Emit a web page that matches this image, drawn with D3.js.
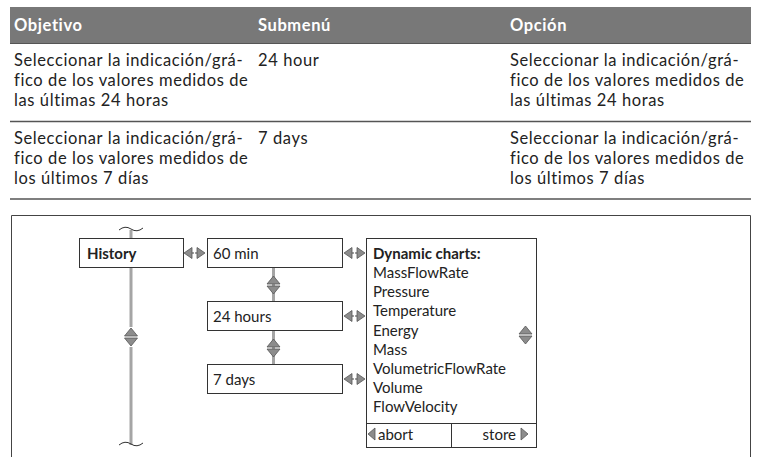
<!DOCTYPE html>
<html><head><meta charset="utf-8">
<script src="https://cdn.jsdelivr.net/npm/d3@7"></script>
<style>
html,body{margin:0;padding:0;background:#fff;}
svg{display:block;}
text{font-family:Lato,"Open Sans",sans-serif;fill:#222;}
text.tbl{letter-spacing:0.6px;}
</style></head>
<body><svg id="c" width="761" height="457"></svg>
<script>
// ---- data ----
const headers = ["Objetivo", "Submenú", "Opción"];
const objectives = [
  ["Seleccionar la indicación/grá-", "fico de los valores medidos de", "las últimas 24 horas"],
  ["Seleccionar la indicación/grá-", "fico de los valores medidos de", "los últimos 7 días"]
];
const submenus = ["24 hour", "7 days"];
const options = [
  ["Seleccionar la indicación/grá-", "fico de los valores medidos de", "las últimas 24 horas"],
  ["Seleccionar la indicación/grá-", "fico de los valores medidos de", "los últimos 7 días"]
];
const menuRoot = "History";
const submenuItems = ["60 min", "24 hours", "7 days"];
const chartTitle = "Dynamic charts:";
const chartItems = ["MassFlowRate", "Pressure", "Temperature", "Energy", "Mass",
  "VolumetricFlowRate", "Volume", "FlowVelocity"];
const actions = ["abort", "store"];

// ---- layout ----
const svg = d3.select("#c");
const colX = d3.scaleOrdinal().domain(headers).range([14, 258, 510]);
const tblL = 10, tblR = 751;

// header band
svg.append("rect").attr("x", tblL).attr("y", 7).attr("width", tblR - tblL).attr("height", 36)
  .attr("fill", "#787878");
svg.append("line").attr("x1", tblL).attr("x2", tblR).attr("y1", 43.5).attr("y2", 43.5)
  .attr("stroke", "#555").attr("stroke-width", 1);
svg.selectAll("text.hdr").data(headers).join("text").attr("class", "hdr tbl")
  .attr("x", d => colX(d)).attr("y", 30.5)
  .style("font-size", "16.5px").style("font-weight", "bold").style("fill", "#fff")
  .text(d => d);

const rowTop = d3.scaleBand().domain([0, 1]).range([44, 199]);
const lineH = 20.2;
const bodyFont = "16.5px";
objectives.forEach((lines, i) => {
  const y0 = rowTop(i) + 22;
  const g = svg.append("g");
  g.selectAll("text.o").data(lines).join("text").attr("class", "o tbl")
    .attr("x", colX(headers[0])).attr("y", (d, k) => y0 + k * lineH)
    .style("font-size", bodyFont).text(d => d);
  g.append("text").attr("class", "tbl").attr("x", colX(headers[1])).attr("y", y0)
    .style("font-size", bodyFont).text(submenus[i]);
  g.selectAll("text.p").data(options[i]).join("text").attr("class", "p tbl")
    .attr("x", colX(headers[2])).attr("y", (d, k) => y0 + k * lineH)
    .style("font-size", bodyFont).text(d => d);
  svg.append("line").attr("x1", tblL).attr("x2", tblR)
    .attr("y1", rowTop(i) + rowTop.bandwidth()).attr("y2", rowTop(i) + rowTop.bandwidth())
    .attr("stroke", "#555").attr("stroke-width", 1.5);
});

// ---- diagram ----
const frame = svg.append("g");
frame.append("path").attr("d", `M11.5,470 V215.5 H750.5 V470`)
  .attr("fill", "none").attr("stroke", "#444").attr("stroke-width", 1);

const triFill = "#8c8c8c", triStroke = "#555";
function vArrow(cx, cy) { // up + down triangle pair centred on cy
  const w = 6.5, h = 8;
  svg.append("path").attr("d", `M${cx},${cy - 1 - h} L${cx + w},${cy - 1} L${cx - w},${cy - 1} Z`)
    .attr("fill", triFill).attr("stroke", triStroke).attr("stroke-width", 0.8);
  svg.append("path").attr("d", `M${cx - w},${cy + 1} L${cx + w},${cy + 1} L${cx},${cy + 1 + h} Z`)
    .attr("fill", triFill).attr("stroke", triStroke).attr("stroke-width", 0.8);
}
function hArrow(x0, x1, cy) { // left + right triangles between x0 and x1
  const w = 8, h = 5.5;
  svg.append("line").attr("x1", x0 + w).attr("x2", x1 - w).attr("y1", cy).attr("y2", cy)
    .attr("stroke", "#999").attr("stroke-width", 2);
  svg.append("path").attr("d", `M${x0},${cy} L${x0 + w},${cy - h} L${x0 + w},${cy + h} Z`)
    .attr("fill", triFill).attr("stroke", triStroke).attr("stroke-width", 0.8);
  svg.append("path").attr("d", `M${x1},${cy} L${x1 - w},${cy - h} L${x1 - w},${cy + h} Z`)
    .attr("fill", triFill).attr("stroke", triStroke).attr("stroke-width", 0.8);
  svg.append("line").attr("x1", (x0 + x1) / 2).attr("x2", (x0 + x1) / 2)
    .attr("y1", cy - h).attr("y2", cy + h).attr("stroke", "#fff").attr("stroke-width", 1.2);
}

// History spine
const spineX = 131;
svg.append("line").attr("x1", spineX).attr("x2", spineX).attr("y1", 230).attr("y2", 445)
  .attr("stroke", "#a5a5a5").attr("stroke-width", 3);
function tilde(cx, cy) {
  svg.append("path").attr("d", `M${cx - 12},${cy + 1} Q${cx - 6},${cy - 4} ${cx},${cy} T${cx + 12},${cy - 1}`)
    .attr("fill", "none").attr("stroke", "#333").attr("stroke-width", 1);
}
tilde(spineX, 229);
tilde(spineX, 444);
svg.append("rect").attr("x", spineX - 8).attr("y", 327).attr("width", 16).attr("height", 20).attr("fill", "#fff");
vArrow(spineX, 337);

// History box
svg.append("rect").attr("x", 79.5).attr("y", 238.5).attr("width", 104).attr("height", 29)
  .attr("fill", "#fff").attr("stroke", "#333");
svg.append("text").attr("x", 87).attr("y", 259).style("font-size", "15px").style("font-weight", "bold")
  .text(menuRoot);

// submenu boxes
const subY = d3.scalePoint().domain(submenuItems).range([238.5, 364.5]);
const boxH = 29;
svg.selectAll("line.conn").data(submenuItems.slice(0, -1)).join("line").attr("class", "conn")
  .attr("x1", 273.5).attr("x2", 273.5)
  .attr("y1", d => subY(d) + boxH).attr("y2", (d, i) => subY(submenuItems[i + 1]))
  .attr("stroke", "#a5a5a5").attr("stroke-width", 3);
submenuItems.slice(0, -1).forEach((d, i) => {
  vArrow(273.5, (subY(d) + boxH + subY(submenuItems[i + 1])) / 2 + 0.5);
});
svg.selectAll("rect.sub").data(submenuItems).join("rect").attr("class", "sub")
  .attr("x", 207.5).attr("y", d => subY(d)).attr("width", 135).attr("height", boxH)
  .attr("fill", "#fff").attr("stroke", "#333");
svg.selectAll("text.sub").data(submenuItems).join("text").attr("class", "sub")
  .attr("x", 213).attr("y", d => subY(d) + 20.5).style("font-size", "15px").text(d => d);

hArrow(184, 205, 253);
submenuItems.forEach(d => hArrow(344, 365, subY(d) + 14.5));

// Dynamic charts box
const dx0 = 366.5, dx1 = 536.5, dy0 = 238.5, dy1 = 447.5, dSep = 423.5, dDiv = 451.5;
svg.append("rect").attr("x", dx0).attr("y", dy0).attr("width", dx1 - dx0).attr("height", dy1 - dy0)
  .attr("fill", "#fff").attr("stroke", "#333");
svg.append("line").attr("x1", dx0).attr("x2", dx1).attr("y1", dSep).attr("y2", dSep).attr("stroke", "#333");
svg.append("line").attr("x1", dDiv).attr("x2", dDiv).attr("y1", dSep).attr("y2", dy1).attr("stroke", "#333");

const itemY = d3.scaleLinear().domain([0, 8]).range([259, 412]);
svg.append("text").attr("x", 373).attr("y", itemY(0)).style("font-size", "15px").style("font-weight", "bold")
  .text(chartTitle);
svg.selectAll("text.item").data(chartItems).join("text").attr("class", "item")
  .attr("x", 373).attr("y", (d, i) => itemY(i + 1)).style("font-size", "15px").text(d => d);
vArrow(525.5, 335);

// abort / store
svg.append("path").attr("d", `M368,434 L375,428 L375,440 Z`).attr("fill", triFill).attr("stroke", triStroke).attr("stroke-width", 0.8);
svg.append("text").attr("x", 378).attr("y", 440).style("font-size", "15px").text(actions[0]);
svg.append("path").attr("d", `M528,434 L521,428 L521,440 Z`).attr("fill", triFill).attr("stroke", triStroke).attr("stroke-width", 0.8);
svg.append("text").attr("x", 516).attr("y", 440).attr("text-anchor", "end").style("font-size", "15px").text(actions[1]);
</script></body></html>
